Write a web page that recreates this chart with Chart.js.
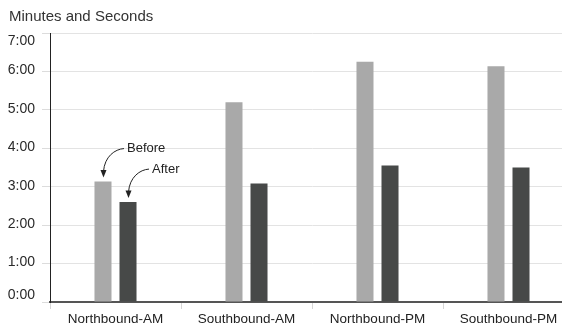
<!DOCTYPE html>
<html>
<head>
<meta charset="utf-8">
<script src="https://cdn.jsdelivr.net/npm/chart.js@4.4.1/dist/chart.umd.min.js"></script>
<style>
  html, body { margin: 0; padding: 0; background: #fff; overflow: hidden; width: 562px; height: 324px; }
  #wrap { position: absolute; left: 0; top: 0; width: 580px; height: 324px; }
</style>
</head>
<body>
<div id="wrap"><canvas id="c" width="580" height="324"></canvas></div>
<script>
// Data (seconds)
const categories = ['Northbound-AM', 'Southbound-AM', 'Northbound-PM', 'Southbound-PM'];
const beforeSeconds = [188, 312, 375, 368];
const afterSeconds = [156, 185, 213, 210];
const yTickSeconds = [0, 60, 120, 180, 240, 300, 360, 420];
const subtitleText = 'Minutes and Seconds';
const annotationLabels = ['Before', 'After'];

function fmt(sec) {
  const m = Math.floor(sec / 60);
  const s = Math.round(sec % 60);
  return m + ':' + (s < 10 ? '0' : '') + s;
}

const FONT = '"Liberation Sans", Arial, Helvetica, sans-serif';

const annotatePlugin = {
  id: 'annotate',
  afterDatasetsDraw(chart) {
    const ctx = chart.ctx;
    ctx.save();
    // subtitle
    ctx.font = '15px ' + FONT;
    ctx.fillStyle = '#333';
    ctx.textBaseline = 'middle';
    ctx.textAlign = 'left';
    ctx.fillText(subtitleText, 9, 17);

    // y-axis labels (top label sits below its line, bottom label above)
    const ys = chart.scales.y;
    ctx.font = '14px ' + FONT;
    ctx.fillStyle = '#2a2a2a';
    ctx.textAlign = 'right';
    yTickSeconds.forEach((v, i) => {
      let py = ys.getPixelForValue(v);
      if (i === yTickSeconds.length - 1) py += 8;
      else if (i === 0) py -= 6.5;
      else py -= 1;
      ctx.fillText(fmt(v), 35, py);
    });

    // arrows for first category
    ctx.font = '13px ' + FONT;
    ctx.fillStyle = '#222';
    ctx.strokeStyle = '#222';
    ctx.lineWidth = 1;
    ctx.textAlign = 'left';
    [0, 1].forEach(di => {
      const bar = chart.getDatasetMeta(di).data[0];
      const tipX = bar.x + 0.5;
      const tipY = bar.y - 4;
      const sx = tipX + 20.5;
      const sy = tipY - 29;
      ctx.beginPath();
      ctx.moveTo(sx, sy);
      ctx.bezierCurveTo(sx - 9, sy + 0.5, tipX + 1, sy + 8, tipX, tipY - 6);
      ctx.stroke();
      // arrowhead
      ctx.beginPath();
      ctx.moveTo(tipX, tipY);
      ctx.lineTo(tipX - 3, tipY - 7.5);
      ctx.lineTo(tipX + 3, tipY - 7.5);
      ctx.closePath();
      ctx.fill();
      ctx.fillText(annotationLabels[di], sx + 3, sy);
    });
    ctx.restore();
  }
};

new Chart(document.getElementById('c'), {
  type: 'bar',
  data: {
    labels: categories,
    datasets: [
      { label: 'Before', data: beforeSeconds, backgroundColor: '#a9a9a9',
        categoryPercentage: 0.382, barPercentage: 0.68 },
      { label: 'After', data: afterSeconds, backgroundColor: '#474948',
        categoryPercentage: 0.382, barPercentage: 0.68 }
    ]
  },
  options: {
    responsive: false,
    animation: false,
    devicePixelRatio: 1,
    layout: { padding: { top: 33, right: 6, left: 0, bottom: 0 } },
    plugins: {
      legend: { display: false },
      tooltip: { enabled: false },
      title: { display: false }
    },
    scales: {
      x: {
        grid: {
          display: true,
          offset: true,
          drawOnChartArea: false,
          drawTicks: true,
          tickLength: 7,
          color: '#d6d6d6'
        },
        border: { display: true, color: '#555', width: 2 },
        ticks: {
          color: '#222',
          font: { family: FONT, size: 13.5 },
          padding: 2,
          maxRotation: 0,
          autoSkip: false
        },
        afterFit(scale) { scale.height = 22; }
      },
      y: {
        min: 0,
        max: 420,
        afterBuildTicks(scale) { scale.ticks = yTickSeconds.map(v => ({ value: v })); },
        grid: {
          color: '#e3e3e3',
          lineWidth: 1,
          drawTicks: true,
          tickLength: 8,
          tickColor: '#dcdcdc'
        },
        border: { display: true, color: '#222', width: 1 },
        ticks: { display: false },
        afterFit(scale) { scale.width = 50; }
      }
    }
  },
  plugins: [annotatePlugin]
});
</script>
</body>
</html>
